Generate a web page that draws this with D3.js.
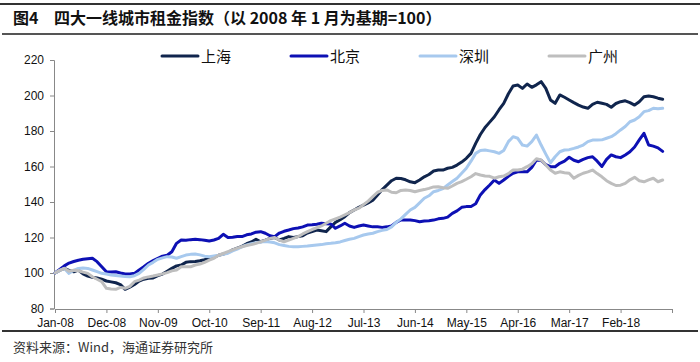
<meta charset="utf-8">
<head>
<script src="https://d3js.org/d3.v7.min.js"></script>
<style>
  body { margin: 0; background: #fff; }
  text { font-family: "Liberation Sans", Arial, sans-serif; }
</style>
</head>
<body>
<div id="container"></div>
<script>

// monthly index, Jan-08 = 0 ... Nov-18 = 130
var names = ["上海", "北京", "深圳", "广州"];
var colors = ["#10254d", "#0d10b4", "#a7c9ee", "#bebebe"];

var shanghai = [100,101.5,102.6,101.5,100.7,101.7,99.5,98.3,97.6,97.2,96.5,95.5,95,94.5,93.5,90.8,92,93.5,95.5,96.5,
  97,97.2,98.5,99.4,101,102.6,104,104.5,106,106.4,106.5,106.9,107.5,108.3,108.8,110,110.7,111.5,113,114,
  115,116.5,117.5,119,117.6,118.5,119.5,120,118.6,119.5,120.5,120,120.5,121,122.5,123.3,124.2,123.8,123.3,126,
  128.5,130,131.7,134,135.5,137,138.3,139.5,141,144,147,149.5,152,153.4,153.2,152.5,151.4,150.9,152.4,154.2,
  155.5,157.5,158,158,159,159.5,160.8,162.5,164.6,167.4,173,178,182,185,188,192,195.6,201,205.4,205.9,
  204,206.5,204.6,206,207.8,204,197.5,195.6,200.3,199,197.5,196,194.6,193.5,192.8,195,196.2,195.6,195,193.4,
  195.5,196.5,197,196,194.6,196.5,199.3,199.7,199.3,198.5,197.9];

var beijing = [100,102,104,105.6,106.5,107.2,107.7,108,108.3,106.4,103.5,100.7,100.5,100.7,100,99.4,99.5,99.8,101.7,103.5,
  105.5,107,108.3,109.5,110,112,116.7,118.6,118.5,118.8,119,118.8,118.5,118,118.6,119.5,121.8,120,120.2,120.5,
  120.5,121.5,122,123,123.3,122.4,121,120.5,122.5,123.5,124.2,125,125.4,126,127,127.2,127.5,128,127.8,127.6,
  125.2,126.5,128,126.5,125.7,126.5,127,126.5,126,126,125.7,126,126.5,128.5,129.9,129.9,129.9,129.5,128.9,129.3,
  129.5,129.8,130.5,130.8,131.5,133.6,135,137,137.4,137.5,139,144,147,149.6,152.4,150.5,152.4,154.5,156.2,157,
  157,157,159.5,163.7,163.5,161,159.9,159.9,161.8,163,165.2,163.5,162.7,164,165,165.5,163,160,164,166.5,
  165.5,165,166.5,168.3,171,175,178.7,172.1,171.5,170.5,168.5];

var shenzhen = [100,101.5,102.6,99.8,101.5,102.6,102.8,102.6,101.7,100.8,99.8,99.4,98.9,98.6,98.3,98,97.9,98.5,99.8,102,
  104.5,106,107.7,108.5,109.2,109,108.3,109.2,110.1,110.5,110.7,110.2,109.5,109.2,109.6,110,110.5,111.1,112.5,113.5,
  114.8,115.8,116.5,117.1,117.5,117.8,117.5,117,116,115.5,115,114.8,114.8,115,115.2,115.5,115.8,116,116.5,116.7,
  117,117.5,118.3,119,119.5,120.5,121.4,122,122.4,123.3,124,124.5,126,128.5,130.5,133,135.5,137,139.5,142.1,
  143.5,145.8,146.5,147.5,149.6,151.5,153.4,156.2,159,163,167.4,169,169.3,168.8,168.3,167.4,169,174,176.8,175.9,
  172.1,171.5,174,177.7,172.1,167,162.1,165.5,168.3,169.3,169.5,170.2,171,172.1,174,174.9,174.9,175,175.9,176.8,
  178.5,180.6,182.5,185.2,186.2,188,190.9,191.5,192.8,192.5,192.8];

var guangzhou = [100,101.5,102.6,101,101.5,101.3,100.5,99.8,97.9,96.5,95.1,91.4,91,90.8,91.9,91.4,92.5,95.1,96,97.2,
  97.8,98.3,98.9,99.5,100.2,101.2,101.7,103.5,103.5,103.5,104.5,105,106,107.3,108.3,110,111,112,113,114,
  114.8,115.5,116,116.7,117.5,118.5,119.5,120,118.5,117.6,118.5,119.5,120.5,122,123.3,124.5,125.5,126.5,128,129.5,
  130.5,131.5,132.7,134,135.5,136.5,138.5,140.5,143,145.5,146.5,146.8,145.5,145.2,146.5,146.8,146.5,145.8,146.5,147,
  147.7,148.5,148.6,148,147.7,149,150.5,151.5,152.8,154.2,156,155.2,154.6,154.5,153.4,154.2,154.6,156,158,158,
  158.5,159.9,161.5,164.4,163.7,160.8,158,156.2,157,156.5,156.2,153.4,155,156.2,157,158,156,154.2,152,150.5,
  149.3,149.5,150.5,152.5,153.9,152,151.4,152.5,153.4,151.4,152.4];

var series = [shanghai, beijing, shenzhen, guangzhou];

var xTickLabels = ["Jan-08","Dec-08","Nov-09","Oct-10","Sep-11","Aug-12","Jul-13","Jun-14","May-15","Apr-16","Mar-17","Feb-18",""];
var yTicks = [80,100,120,140,160,180,200,220];

var titleNo = "图4";
var title = "四大一线城市租金指数（以 2008 年 1 月为基期=100）";
var source = "资料来源：Wind，海通证券研究所";

var width = 700, height = 362;
var svg = d3.select('#container').append('svg')
  .attr('width', width).attr('height', height);

// header / footer rules
svg.append('rect').attr('x', 0).attr('y', 3).attr('width', 700).attr('height', 2).attr('fill', '#333');
svg.append('rect').attr('x', 2).attr('y', 33).attr('width', 696).attr('height', 2).attr('fill', '#555');
svg.append('rect').attr('x', 2).attr('y', 330).attr('width', 696).attr('height', 2).attr('fill', '#333');

var tf = '"Noto Sans CJK SC", sans-serif';
svg.append('text').attr('x', 13).attr('y', 24)
  .style('font-family', tf).style('font-weight', 'bold').style('font-size', '16px').attr('fill', '#111')
  .text(titleNo);
svg.append('text').attr('x', 54).attr('y', 24)
  .style('font-family', tf).style('font-weight', 'bold').style('font-size', '16px').attr('fill', '#111')
  .style('white-space', 'pre')
  .text(title);

svg.append('text').attr('x', 13).attr('y', 352)
  .style('font-family', tf)
  .style('font-size', '13px').attr('fill', '#333')
  .text(source);

var x = d3.scaleLinear().domain([0, 132]).range([55, 672]);
var y = d3.scaleLinear().domain([80, 220]).range([308.5, 60]);

// axes
var yAxis = svg.append('g').attr('transform', 'translate(54,0)')
  .call(d3.axisLeft(y).tickValues(yTicks).tickSize(4).tickPadding(6));
var xAxis = svg.append('g').attr('transform', 'translate(0,309)')
  .call(d3.axisBottom(x).tickValues(d3.range(0, 133, 11)).tickSize(4).tickPadding(5)
    .tickFormat(function(d, i) { return xTickLabels[i]; }));
[yAxis, xAxis].forEach(function(g) {
  g.select('.domain').attr('stroke', '#888');
  g.selectAll('.tick line').attr('stroke', '#888');
  g.selectAll('.tick text').style('font-size', '12px').attr('fill', '#111')
    .style('font-family', '"Liberation Sans", Arial, sans-serif');
});

var line = d3.line()
  .x(function(d, i) { return x(i); })
  .y(function(d) { return y(d); });

series.forEach(function(s, k) {
  svg.append('path').datum(s)
    .attr('d', line)
    .attr('fill', 'none')
    .attr('stroke', colors[k])
    .attr('stroke-width', 3)
    .attr('stroke-linejoin', 'round')
    .attr('stroke-linecap', 'round');
});

// legend
var legend = svg.append('g').attr('transform', 'translate(162,56)');
names.forEach(function(n, k) {
  var g = legend.append('g').attr('transform', 'translate(' + (k * 129) + ',0)');
  g.append('line').attr('x1', 0).attr('x2', 36).attr('y1', 0).attr('y2', 0)
    .attr('stroke', colors[k]).attr('stroke-width', 3).attr('stroke-linecap', 'round');
  g.append('text').attr('x', 39).attr('y', 5.5)
    .style('font-family', tf)
    .style('font-size', '15px').attr('fill', '#111')
    .text(n);
});

</script>
</body>
